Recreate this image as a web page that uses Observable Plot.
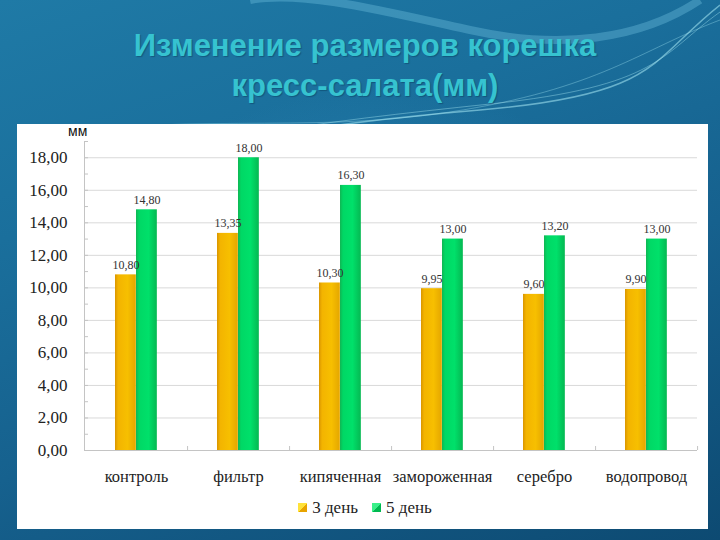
<!DOCTYPE html>
<html><head><meta charset="utf-8">
<script src="https://cdn.jsdelivr.net/npm/d3@7"></script>
<script src="https://cdn.jsdelivr.net/npm/@observablehq/plot@0.6"></script>
<style>
html,body{margin:0;padding:0;width:720px;height:540px;overflow:hidden}
body{position:relative;
 background:
  radial-gradient(ellipse 420px 300px at 380px 300px, rgba(60,150,200,0.55), rgba(60,150,200,0) 70%),
  linear-gradient(160deg,#1f7aa6 0%,#1a6f9c 30%,#16618e 60%,#0d4a72 100%);
 font-family:"Liberation Sans",Arial,sans-serif}
#waves{position:absolute;left:0;top:0}
#title{position:absolute;left:0;width:730px;top:26px;text-align:center;
 font:bold 31px/40px "Liberation Sans",Arial,sans-serif;color:#36c3d0;
 text-shadow:1px 1px 1px rgba(0,40,70,0.35)}
#panel{position:absolute;left:17px;top:124px;width:691px;height:405px;background:#fff}
#chart{position:absolute;left:17px;top:123px}
#unit{position:absolute;left:68px;top:123px;font:14px "Liberation Sans",Arial,sans-serif;color:#111}
#legend{position:absolute;top:498px;left:0;width:730px;text-align:center;
 font:17px "Liberation Serif","DejaVu Serif",serif;color:#222}
#legend span.sw{display:inline-block;width:9px;height:9px;margin-right:5px;vertical-align:1px}
#legend span.item{margin:0 7px}
</style></head><body>
<svg id="waves" width="720" height="140">
 <path d="M0,205 C150,150 300,125 480,110 S650,60 720,5" fill="none" stroke="rgba(170,235,245,0.55)" stroke-width="1.5"/>
 <path d="M0,200 C160,140 320,122 490,104 S660,55 720,12" fill="none" stroke="rgba(170,235,245,0.4)" stroke-width="1"/>
 <path d="M20,140 C180,110 300,135 450,112 S640,50 720,20" fill="none" stroke="rgba(170,235,245,0.35)" stroke-width="1"/>
 <path d="M700,0 C640,40 560,50 470,30 S300,-10 250,0" fill="none" stroke="rgba(120,200,230,0.35)" stroke-width="8"/>
</svg>
<div id="title">Изменение размеров корешка<br>кресс-салата(мм)</div>
<div id="panel"></div>
<div id="chart"></div>
<div id="unit">мм</div>
<div id="legend"><span class="item"><span class="sw" style="background:linear-gradient(135deg,#ffe23a 0 50%,#e8a400 50% 100%)"></span>3 день</span><span class="item"><span class="sw" style="background:linear-gradient(135deg,#3af08a 0 50%,#00b850 50% 100%)"></span>5 день</span></div>
<script>
const categories = ["контроль","фильтр","кипяченная","замороженная","серебро","водопровод"];
const series = ["3 день","5 день"];
const day3 = [10.80, 13.35, 10.30, 9.95, 9.60, 9.90];
const day5 = [14.80, 18.00, 16.30, 13.00, 13.20, 13.00];
const yTicks = [0,2,4,6,8,10,12,14,16,18];
const yMinor = [1,3,5,7,9,11,13,15,17,19];

const rows = categories.map((c,i)=>({cat:c, d3:day3[i], d5:day5[i]}));
const fmt = v => v.toFixed(2).replace(".", ",");
const serif = "'Liberation Serif','DejaVu Serif',serif";
const W = 691, H = 372, mL = 67, mR = 11, mT = 18, mB = 45;
const bw = (W - mL - mR) / categories.length;

const plot = Plot.plot({
  width: W, height: H,
  marginLeft: mL, marginRight: mR, marginTop: mT, marginBottom: mB,
  style: {background: "transparent", overflow: "visible"},
  x: {type: "band", domain: categories, padding: 0, axis: null},
  y: {domain: [0, 19], axis: null},
  marks: [
    Plot.gridY(yTicks.filter(d=>d>0), {stroke: "#d9d9d9", strokeOpacity: 1}),
    Plot.axisY({ticks: yMinor.concat(yTicks), tickSize: -4, tickFormat: () => "", label: null, stroke: "#c4c4c4"}),
    Plot.axisY({ticks: yTicks, tickSize: 0, tickPadding: 17, tickFormat: fmt, label: null,
      fontSize: 17, fontFamily: serif, fill: "#222"}),
    Plot.frame({anchor: "left", stroke: "#c4c4c4"}),
    Plot.ruleY([0], {stroke: "#c4c4c4"}),
    Plot.axisX({tickSize: -4, dx: bw/2, tickFormat: () => "", label: null, stroke: "#c4c4c4"}),
    Plot.axisX({tickSize: 0, tickPadding: 20, label: null, fontSize: 16.5, fontFamily: serif, fill: "#222"}),
    Plot.barY(rows, {x: "cat", y: "d3", fill: "url(#gY)", insetLeft: 30, insetRight: bw - 51}),
    Plot.barY(rows, {x: "cat", y: "d5", fill: "url(#gG)", insetLeft: 51, insetRight: bw - 72}),
    Plot.text(rows, {x: "cat", y: "d3", text: d => fmt(d.d3), dx: -10.6, dy: -10, fontSize: 12, fontFamily: serif, fill: "#333"}),
    Plot.text(rows, {x: "cat", y: "d5", text: d => fmt(d.d5), dx: 10.4, dy: -10, fontSize: 12, fontFamily: serif, fill: "#333"})
  ]
});
const ns = "http://www.w3.org/2000/svg";
const defs = document.createElementNS(ns, "defs");
defs.innerHTML = `
<linearGradient id="gY" x1="0" x2="1" y1="0" y2="0">
 <stop offset="0" stop-color="#d99500"/><stop offset="0.15" stop-color="#f3b400"/>
 <stop offset="0.6" stop-color="#f7bf00"/><stop offset="1" stop-color="#e4a600"/>
</linearGradient>
<linearGradient id="gG" x1="0" x2="1" y1="0" y2="0">
 <stop offset="0" stop-color="#10b553"/><stop offset="0.15" stop-color="#00d865"/>
 <stop offset="0.6" stop-color="#00e06a"/><stop offset="1" stop-color="#05b852"/>
</linearGradient>`;
plot.insertBefore(defs, plot.firstChild);
document.getElementById("chart").appendChild(plot);
</script>
</body></html>
